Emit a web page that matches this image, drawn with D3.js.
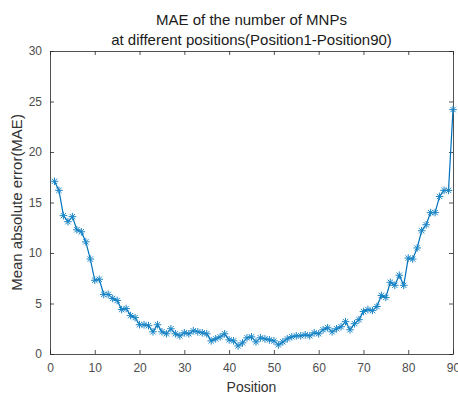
<!DOCTYPE html>
<html>
<head>
<meta charset="utf-8">
<script src="https://cdn.jsdelivr.net/npm/d3@7"></script>
<style>
  body { margin: 0; background: #fff; }
  svg text { font-family: "Liberation Sans", Arial, sans-serif; }
</style>
</head>
<body>
<svg id="chart"></svg>
<script>
// MAE per position (Position1 .. Position90)
const positions = d3.range(1, 91);
const maeValues = [
  17.1, 16.2, 13.7, 13.1, 13.6, 12.3, 12.1, 11.1, 9.4, 7.3,
  7.4, 5.9, 5.9, 5.5, 5.3, 4.4, 4.5, 3.8, 3.6, 2.9,
  2.9, 2.8, 2.2, 2.9, 2.2, 2.0, 2.5, 2.0, 1.8, 2.1,
  2.0, 2.3, 2.2, 2.1, 2.0, 1.3, 1.5, 1.7, 2.0, 1.4,
  1.3, 0.8, 1.1, 1.6, 1.7, 1.2, 1.6, 1.5, 1.4, 1.3,
  0.9, 1.2, 1.5, 1.7, 1.8, 1.8, 1.9, 1.8, 2.1, 2.0,
  2.4, 2.6, 2.2, 2.5, 2.7, 3.2, 2.4, 3.0, 3.4, 4.2,
  4.4, 4.3, 4.7, 5.8, 5.6, 7.1, 6.8, 7.8, 6.8, 9.5,
  9.4, 10.5, 12.2, 12.8, 14.0, 14.0, 15.6, 16.2, 16.2, 24.2
];
const xTicks = [0, 10, 20, 30, 40, 50, 60, 70, 80, 90];
const yTicks = [0, 5, 10, 15, 20, 25, 30];
const titleLines = ["MAE of the number of MNPs", "at different positions(Position1-Position90)"];

const width = 458, height = 396;
const margin = { top: 51, right: 5, bottom: 42, left: 50 };
const innerW = width - margin.left - margin.right;
const innerH = height - margin.top - margin.bottom;

const svg = d3.select("#chart").attr("width", width).attr("height", height);
const g = svg.append("g").attr("transform", `translate(${margin.left},${margin.top})`);

const x = d3.scaleLinear().domain([0, 90]).range([0, innerW]);
const y = d3.scaleLinear().domain([0, 30]).range([innerH, 0]);

const axisColor = "#262626";
const labelColor = "#4d4d4d";

// bottom + left axes with inward ticks
const xAxis = g.append("g").attr("transform", `translate(0,${innerH})`)
  .call(d3.axisBottom(x).tickValues(xTicks).tickSizeInner(-4).tickSizeOuter(0).tickPadding(9));
const yAxis = g.append("g")
  .call(d3.axisLeft(y).tickValues(yTicks).tickSizeInner(-4).tickSizeOuter(0).tickPadding(8));
// top + right (box)
const xTop = g.append("g")
  .call(d3.axisTop(x).tickValues(xTicks).tickSizeInner(-4).tickSizeOuter(0).tickFormat(""));
const yRight = g.append("g").attr("transform", `translate(${innerW},0)`)
  .call(d3.axisRight(y).tickValues(yTicks).tickSizeInner(-4).tickSizeOuter(0).tickFormat(""));

[xAxis, yAxis, xTop, yRight].forEach(a => {
  a.selectAll("path, line").attr("stroke", axisColor).attr("stroke-width", 0.8);
  a.selectAll("text").attr("fill", labelColor).style("font-size", "12px");
});

// line
const color = "#0072bd";
const pts = positions.map((p, i) => [p, maeValues[i]]);
g.append("path")
  .datum(pts)
  .attr("fill", "none")
  .attr("stroke", color)
  .attr("stroke-width", 1.2)
  .attr("d", d3.line().x(d => x(d[0])).y(d => y(d[1])));

// asterisk markers
const r = 3.8;
const star = `M${-r},0L${r},0M0,${-r}L0,${r}M${-r * 0.7},${-r * 0.7}L${r * 0.7},${r * 0.7}M${-r * 0.7},${r * 0.7}L${r * 0.7},${-r * 0.7}`;
g.selectAll(".mk")
  .data(pts)
  .enter()
  .append("path")
  .attr("class", "mk")
  .attr("transform", d => `translate(${x(d[0])},${y(d[1])})`)
  .attr("d", star)
  .attr("stroke", "#1a86c6")
  .attr("stroke-width", 1)
  .attr("fill", "none");

// titles
svg.selectAll(".title")
  .data(titleLines)
  .enter()
  .append("text")
  .attr("x", margin.left + innerW / 2)
  .attr("y", (d, i) => 25 + i * 20)
  .attr("text-anchor", "middle")
  .attr("fill", "#1a1a1a")
  .style("font-size", "15px")
  .text(d => d);

// axis labels
svg.append("text")
  .attr("x", margin.left + innerW / 2)
  .attr("y", 392)
  .attr("text-anchor", "middle")
  .attr("fill", "#333")
  .style("font-size", "14px")
  .text("Position");

svg.append("text")
  .attr("transform", `translate(22,${margin.top + innerH / 2}) rotate(-90)`)
  .attr("text-anchor", "middle")
  .attr("fill", "#333")
  .style("font-size", "15px")
  .text("Mean absolute error(MAE)");
</script>
</body>
</html>
